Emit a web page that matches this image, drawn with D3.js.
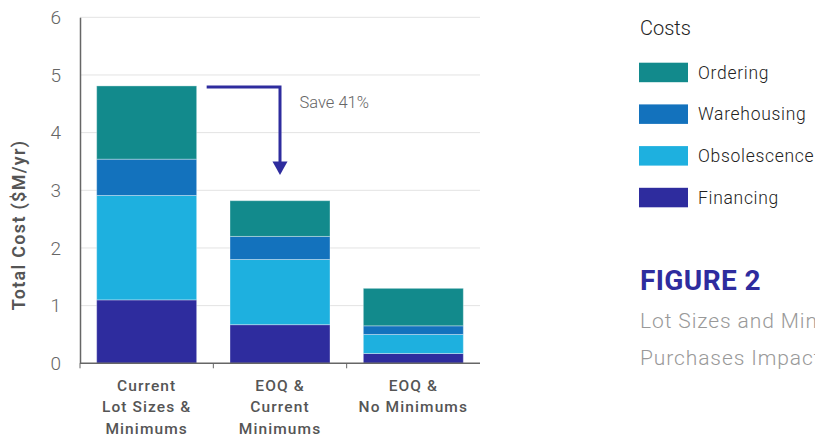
<!DOCTYPE html>
<html><head><meta charset="utf-8">
<script src="https://cdn.jsdelivr.net/npm/d3@7"></script>
<style>html,body{margin:0;padding:0;background:#fff;overflow:hidden}svg{display:block}</style>
</head><body>
<svg id="c" width="815" height="436"></svg>
<script>
const categories = [["Current","Lot Sizes &","Minimums"],["EOQ &","Current","Minimums"],["EOQ &","No Minimums"]];
const seriesNames = ["Financing","Obsolescence","Warehousing","Ordering"];
const financing    = [1.10, 0.67, 0.17];
const obsolescence = [1.81, 1.13, 0.33];
const warehousing  = [0.63, 0.40, 0.15];
const ordering     = [1.27, 0.62, 0.65];
const colors = {Ordering:"#128a8c", Warehousing:"#1372bd", Obsolescence:"#1eb0df", Financing:"#2e2c9e"};
const yTicks = [0,1,2,3,4,5,6];
const legendOrder = ["Ordering","Warehousing","Obsolescence","Financing"];
const saveLabel = "Save 41%";

const font = "Roboto, 'Noto Sans', sans-serif";
const svg = d3.select("#c");
const m = {l:80, t:17.3, b:363.3};
const x = d3.scaleBand().domain(d3.range(categories.length)).range([m.l, 480]).paddingInner(0.25).paddingOuter(0.125);
const y = d3.scaleLinear().domain([0,6]).range([m.b, m.t]);

// gridlines
svg.append("g").selectAll("line").data(yTicks.slice(1)).join("line")
  .attr("x1", m.l).attr("x2", 480).attr("y1", d=>y(d)).attr("y2", d=>y(d))
  .attr("stroke", "#e3e3e3").attr("stroke-width", 1);

// stacked bars
const rows = categories.map((c,i)=>({i, Financing:financing[i], Obsolescence:obsolescence[i], Warehousing:warehousing[i], Ordering:ordering[i]}));
const stack = d3.stack().keys(seriesNames)(rows);
svg.append("g").selectAll("g").data(stack).join("g")
  .attr("fill", d=>colors[d.key])
  .selectAll("rect").data(d=>d).join("rect")
  .attr("x", d=>x(d.data.i)).attr("width", x.bandwidth())
  .attr("y", d=>y(d[1])).attr("height", d=>y(d[0])-y(d[1]))
  .attr("stroke", "rgba(255,255,255,0.35)").attr("stroke-width", 1);

// y axis
const yAxis = svg.append("g").attr("transform", `translate(${m.l},0)`)
  .call(d3.axisLeft(y).tickValues(yTicks).tickFormat(d3.format("d")).tickSize(0).tickPadding(19));
yAxis.select(".domain").attr("stroke", "#666").attr("stroke-width", 1.5);
yAxis.selectAll("text").attr("font-family", font).attr("font-size", 19).attr("font-weight", 300).attr("fill", "#666");

// x axis
const xb = d3.scaleLinear().domain([0,3]).range([m.l, 480]);
const xAxis = svg.append("g").attr("transform", `translate(0,${m.b})`);
xAxis.append("line").attr("x1", m.l).attr("x2", 480).attr("stroke", "#666").attr("stroke-width", 1.5);
xAxis.selectAll("line.t").data([0,1,2]).join("line").attr("class","t")
  .attr("x1", d=>xb(d)).attr("x2", d=>xb(d)).attr("y1", 0).attr("y2", 5).attr("stroke", "#666").attr("stroke-width", 1);
categories.forEach((lines,i)=>{
  const t = svg.append("text").attr("text-anchor","middle").attr("font-family", font).attr("font-size", 15.5)
    .attr("font-weight", 500).attr("fill", "#555").attr("letter-spacing", 1.1);
  lines.forEach((ln,k)=>t.append("tspan").attr("x", x(i)+x.bandwidth()/2).attr("y", 390.5 + k*21.5).text(ln));
});

// y title
svg.append("text").attr("transform", `translate(25,${y(2.4)}) rotate(-90)`).attr("text-anchor","middle")
  .attr("font-family", font).attr("font-size", 18).attr("font-weight", 600).attr("fill", "#555")
  .attr("letter-spacing", 1.3).text("Total Cost ($M/yr)");

// arrow annotation
const topFirst = financing[0]+obsolescence[0]+warehousing[0]+ordering[0];
const ax = x(1)+x.bandwidth()/2;
const ay = y(topFirst) + 1;
const tipY = 175;
svg.append("path").attr("d", `M${x(0)+x.bandwidth()+10},${ay} H${ax} V${tipY-12}`)
  .attr("fill","none").attr("stroke", "#2e2c9e").attr("stroke-width", 3);
svg.append("path").attr("d", `M${ax-7.5},${tipY-13.5} L${ax+7.5},${tipY-13.5} L${ax},${tipY} Z`).attr("fill", "#2e2c9e");
svg.append("text").attr("x", 299.5).attr("y", 107.7).attr("font-family", font).attr("font-size", 16.5)
  .attr("font-weight", 300).attr("fill", "#666").text(saveLabel);

// legend
svg.append("text").attr("x", 640).attr("y", 35).attr("font-family", font).attr("font-size", 20)
  .attr("font-weight", 300).attr("fill", "#222").text("Costs");
const lg = svg.append("g").selectAll("g").data(legendOrder).join("g")
  .attr("transform", (d,i)=>`translate(639,${62.7 + i*41.7})`);
lg.append("rect").attr("width", 49).attr("height", 19.5).attr("fill", d=>colors[d]);
lg.append("text").attr("x", 59).attr("y", 16).attr("font-family", font).attr("font-size", 17.5)
  .attr("font-weight", 300).attr("fill", "#222").attr("letter-spacing", 0.7).text(d=>d);

// figure caption
svg.append("text").attr("x", 640).attr("y", 290).attr("font-family", font).attr("font-size", 28)
  .attr("font-weight", 700).attr("fill", "#2e2c9e").attr("letter-spacing", 0.4).text("FIGURE 2");
svg.append("text").attr("x", 640).attr("y", 328).attr("font-family", font).attr("font-size", 21)
  .attr("font-weight", 300).attr("fill", "#999").attr("letter-spacing", 0.9).text("Lot Sizes and Minimum");
svg.append("text").attr("x", 640).attr("y", 365).attr("font-family", font).attr("font-size", 21)
  .attr("font-weight", 300).attr("fill", "#999").attr("letter-spacing", 0.9).text("Purchases Impact Costs");
</script>
</body></html>
